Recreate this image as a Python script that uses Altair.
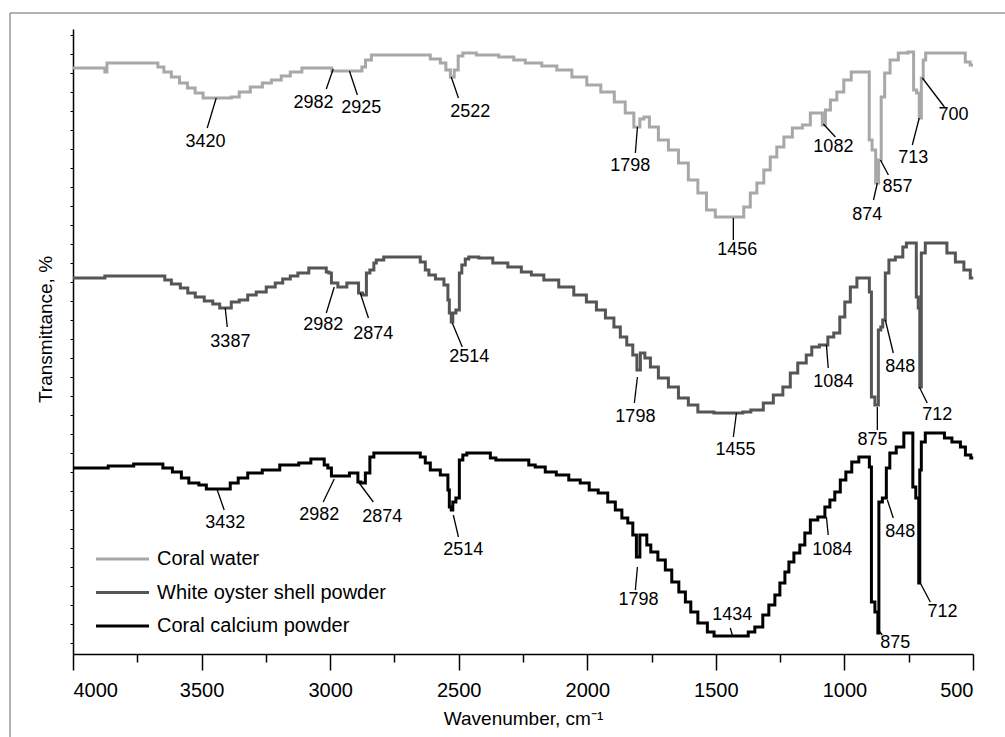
import altair as alt
import pandas as pd

# ---- spectra: (wavenumber cm-1, transmittance in arbitrary units) ----
coral_water = [
    (4000, 586), (3882, 586), (3870, 582), (3866, 591), (3680, 591), (3660, 587), (3633, 582),
    (3602, 577), (3570, 571), (3540, 566), (3510, 561), (3478, 556), (3400, 556), (3369, 557),
    (3338, 562), (3283, 567), (3244, 571), (3213, 574), (3167, 578), (3143, 582), (3077, 586),
    (2999, 586), (2988, 583), (2933, 583), (2883, 583), (2870, 587), (2855, 594), (2824, 599),
    (2638, 599), (2583, 595), (2560, 591), (2540, 584), (2525, 577), (2510, 584), (2494, 598),
    (2474, 601), (2389, 599), (2300, 597), (2272, 594), (2210, 591), (2144, 588), (2093, 584),
    (2027, 577), (1977, 569), (1918, 562), (1872, 552), (1833, 541), (1805, 527), (1786, 535),
    (1774, 537), (1743, 527), (1704, 514), (1665, 504), (1626, 491), (1588, 474), (1552, 461),
    (1521, 444), (1483, 437), (1405, 437), (1378, 447), (1354, 461), (1327, 471), (1300, 484),
    (1277, 497), (1249, 507), (1222, 517), (1183, 526), (1144, 529), (1121, 541), (1090, 541),
    (1082, 529), (1066, 544), (1043, 554), (1016, 562), (989, 574), (958, 582), (907, 582),
    (900, 514), (885, 504), (872, 471), (862, 494), (852, 557), (835, 581), (810, 594),
    (771, 601), (736, 602), (726, 564), (713, 561), (705, 536), (697, 576), (690, 594),
    (678, 601), (538, 601), (522, 592), (500, 589),
]
oyster_shell = [
    (4000, 376), (3882, 376), (3870, 378), (3653, 378), (3633, 374), (3602, 370), (3563, 366),
    (3544, 361), (3505, 357), (3474, 353), (3439, 350), (3420, 346), (3400, 346), (3369, 352),
    (3338, 354), (3303, 359), (3272, 362), (3225, 367), (3202, 371), (3167, 375), (3143, 378),
    (3108, 381), (3058, 386), (3019, 386), (3011, 382), (2999, 381), (2991, 371), (2949, 367),
    (2921, 371), (2894, 371), (2885, 361), (2863, 359), (2855, 381), (2836, 384), (2824, 391),
    (2817, 394), (2766, 397), (2661, 397), (2638, 392), (2622, 384), (2610, 379), (2571, 375),
    (2544, 369), (2540, 354), (2533, 341), (2525, 332), (2521, 341), (2501, 344), (2494, 381),
    (2482, 389), (2467, 395), (2455, 397), (2389, 396), (2346, 391), (2272, 387), (2241, 382),
    (2194, 379), (2144, 374), (2078, 367), (2027, 359), (1980, 352), (1949, 344), (1910, 336),
    (1883, 327), (1860, 317), (1833, 309), (1813, 299), (1801, 284), (1786, 301), (1766, 296),
    (1743, 287), (1704, 276), (1665, 267), (1626, 256), (1588, 249), (1552, 242), (1463, 241),
    (1397, 241), (1393, 242), (1335, 244), (1296, 251), (1257, 259), (1222, 267), (1199, 281),
    (1164, 291), (1133, 299), (1121, 307), (1074, 309), (1055, 317), (1028, 321), (1008, 337),
    (989, 352), (965, 367), (938, 376), (907, 376), (899, 362), (891, 257), (872, 249),
    (864, 324), (853, 327), (849, 334), (833, 381), (821, 394), (783, 397), (763, 407),
    (755, 411), (724, 411), (717, 357), (709, 346), (705, 267), (697, 401), (674, 411),
    (615, 411), (588, 401), (549, 392), (522, 384), (499, 376),
]
coral_calcium = [
    (4000, 186), (3866, 186), (3860, 188), (3668, 190), (3633, 186), (3594, 182), (3563, 176),
    (3536, 171), (3485, 169), (3478, 165), (3400, 165), (3377, 171), (3338, 176), (3303, 181),
    (3225, 184), (3167, 189), (3077, 191), (3073, 195), (3027, 195), (3019, 189), (2999, 186),
    (2991, 178), (2929, 178), (2921, 181), (2894, 181), (2890, 172), (2871, 171), (2855, 181),
    (2836, 197), (2824, 201), (2661, 201), (2638, 197), (2622, 191), (2599, 184), (2544, 179),
    (2540, 164), (2533, 147), (2525, 144), (2521, 152), (2501, 156), (2494, 194), (2474, 199),
    (2463, 201), (2389, 201), (2365, 196), (2346, 194), (2233, 194), (2222, 189), (2183, 187),
    (2144, 182), (2097, 179), (2047, 174), (2008, 171), (1977, 164), (1938, 161), (1903, 152),
    (1879, 144), (1852, 136), (1833, 131), (1813, 119), (1805, 97), (1786, 119), (1774, 119),
    (1763, 109), (1743, 102), (1708, 94), (1685, 84), (1658, 72), (1630, 62), (1607, 52),
    (1588, 42), (1552, 31), (1514, 22), (1500, 18), (1378, 18), (1370, 22), (1327, 27),
    (1308, 39), (1280, 49), (1261, 59), (1241, 71), (1222, 82), (1210, 92), (1183, 101),
    (1164, 109), (1144, 121), (1121, 134), (1086, 137), (1066, 147), (1047, 154), (1028, 162),
    (1004, 174), (985, 182), (958, 192), (930, 197), (907, 197), (899, 187), (891, 52),
    (872, 42), (868, 21), (864, 152), (841, 156), (833, 186), (814, 201), (783, 207),
    (755, 221), (736, 221), (732, 167), (713, 156), (709, 71), (705, 184), (697, 212),
    (674, 221), (615, 221), (607, 216), (557, 212), (541, 207), (518, 199), (499, 196),
]

series_names = ["Coral water", "White oyster shell powder", "Coral calcium powder"]
series_colors = ["#a8a8a8", "#555555", "#000000"]

# ---- peak annotations: label, leader start (x1,y1), leader end (x2,y2), text (tx,ty) ----
ann_label = ["3420", "2982", "2925", "2522", "1798", "1456", "1082", "874", "857", "713", "700",
             "3387", "2982", "2874", "2514", "1798", "1455", "1084", "875", "848", "712",
             "3432", "2982", "2874", "2514", "1798", "1434", "1084", "875", "848", "712"]
ann_x1 = [3443, 2988, 2925, 2529, 1805, 1432, 1082, 872, 860, 709, 697,
          3408, 2984, 2883, 2525, 1805, 1420, 1070, 872, 841, 709,
          3439, 2984, 2890, 2521, 1805, 1444, 1070, 868, 833, 705]
ann_y1 = [556, 585, 583, 577, 527, 436, 530, 471, 494, 536, 576,
          346, 367, 361, 331, 277, 241, 309, 247, 334, 267,
          164, 175, 172, 139, 87, 26, 137, 24, 154, 71]
ann_x2 = [3478, 3015, 2894, 2501, 1813, 1432, 1035, 887, 829, 736, 611,
          3400, 3015, 2851, 2486, 1817, 1432, 1063, 872, 810, 678,
          3412, 3027, 2832, 2501, 1813, 1436, 1063, 853, 810, 666]
ann_y2 = [526, 565, 559, 556, 501, 414, 517, 454, 479, 509, 547,
          327, 341, 336, 307, 251, 217, 286, 224, 301, 251,
          144, 152, 152, 117, 64, 19, 119, 19, 136, 52]
ann_tx = [3485, 3065, 2879, 2455, 1833, 1417, 1043, 911, 794, 732, 576,
          3388, 3027, 2832, 2459, 1813, 1424, 1043, 891, 783, 639,
          3408, 3042, 2797, 2482, 1801, 1436, 1047, 802, 783, 619]
ann_ty = [512, 551, 546, 542, 488, 404, 507, 439, 467, 496, 539,
          312, 329, 320, 297, 237, 204, 272, 214, 287, 239,
          131, 139, 137, 104, 54, 39, 104, 11, 122, 42]

rows = []
for name, pts in zip(series_names, [coral_water, oyster_shell, coral_calcium]):
    for w, t in pts:
        rows.append({"series": name, "wn": w, "t": t})
spec_df = pd.DataFrame(rows)

ann_df = pd.DataFrame({"label": ann_label, "x1": ann_x1, "y1": ann_y1, "x2": ann_x2,
                       "y2": ann_y2, "tx": ann_tx, "ty": ann_ty})
legend_df = pd.DataFrame({"series": series_names})

FONT = "Liberation Sans, Arial, sans-serif"
NARROW = "Liberation Sans Narrow, Arial Narrow, Liberation Sans, sans-serif"
XT = "Wavenumber, cm\u207b\u00b9"
YT = "Transmittance, %"

xscale = alt.Scale(domain=[500, 4000], reverse=True, nice=False, zero=False)
yscale = alt.Scale(domain=[0, 625], nice=False, zero=False)
color = alt.Color("series:N", scale=alt.Scale(domain=series_names, range=series_colors), legend=None)

x_axis = alt.Axis(
    values=list(range(500, 4001, 250)),
    labelExpr="datum.value % 500 === 0 ? datum.value : ''",
    tickSize={"condition": {"test": "datum.value % 500 === 0", "value": 16}, "value": 8},
    tickColor="black", tickWidth=1.5, domainColor="black", domainWidth=1.5,
    labelFont=FONT, labelFontSize=20, labelColor="black", labelPadding=10,
    titleFont=FONT, titleFontSize=19, titleFontWeight="normal", titleColor="black",
    titleY=64, titleBaseline="middle", grid=False,
)
y_axis = alt.Axis(
    values=list(range(11, 626, 19)), labels=False, tickSize=3, tickColor="black", tickWidth=1,
    domainColor="black", domainWidth=1.5, grid=False,
    titleFont=FONT, titleFontSize=19, titleFontWeight="normal", titleColor="black",
    titleAngle=270, titleX=-28, titleY=300, titleBaseline="middle", titleAlign="center",
)

lines = alt.Chart(spec_df).mark_line(interpolate="step", strokeWidth=3).encode(
    x=alt.X("wn:Q", scale=xscale, axis=x_axis, title=XT),
    y=alt.Y("t:Q", scale=yscale, axis=y_axis, title=YT),
    color=color,
)

leaders = alt.Chart(ann_df).mark_rule(color="black", strokeWidth=1.3).encode(
    x=alt.X("x1:Q", scale=xscale, title=XT),
    y=alt.Y("y1:Q", scale=yscale, axis=None),
    x2="x2:Q",
    y2="y2:Q",
)

labels = alt.Chart(ann_df).mark_text(font=NARROW, fontSize=18, color="black",
                                     align="center", baseline="middle").encode(
    x=alt.X("tx:Q", scale=xscale, title=XT),
    y=alt.Y("ty:Q", scale=yscale, axis=None),
    text="label:N",
)

leg_scale = alt.Scale(type="point", domain=series_names, range=[530, 597], padding=0)
leg_lines = alt.Chart(legend_df).mark_rule(strokeWidth=3).encode(
    x=alt.value(23), x2=alt.value(76),
    y=alt.Y("series:N", scale=leg_scale, axis=None),
    color=color,
)
leg_text = alt.Chart(legend_df).mark_text(font=FONT, fontSize=20, color="black",
                                          align="left", baseline="middle").encode(
    x=alt.value(84),
    y=alt.Y("series:N", scale=leg_scale, axis=None),
    text="series:N",
)

frame = alt.Chart(pd.DataFrame({"a": [0]})).mark_rect(
    fillOpacity=0, stroke="#666666", strokeWidth=1
).encode(x=alt.value(-63), x2=alt.value(1000), y=alt.value(-16), y2=alt.value(800))

chart = alt.layer(frame, lines, leaders, labels, leg_lines, leg_text).resolve_scale(
    y="independent"
).properties(
    width=900, height=625,
    autosize=alt.AutoSizeParams(type="none"),
    padding={"left": 73, "top": 29, "right": 32, "bottom": 83},
    background="white",
).configure_view(stroke=None)

chart.save("out.html", embed_options={"renderer": "svg", "actions": False})
